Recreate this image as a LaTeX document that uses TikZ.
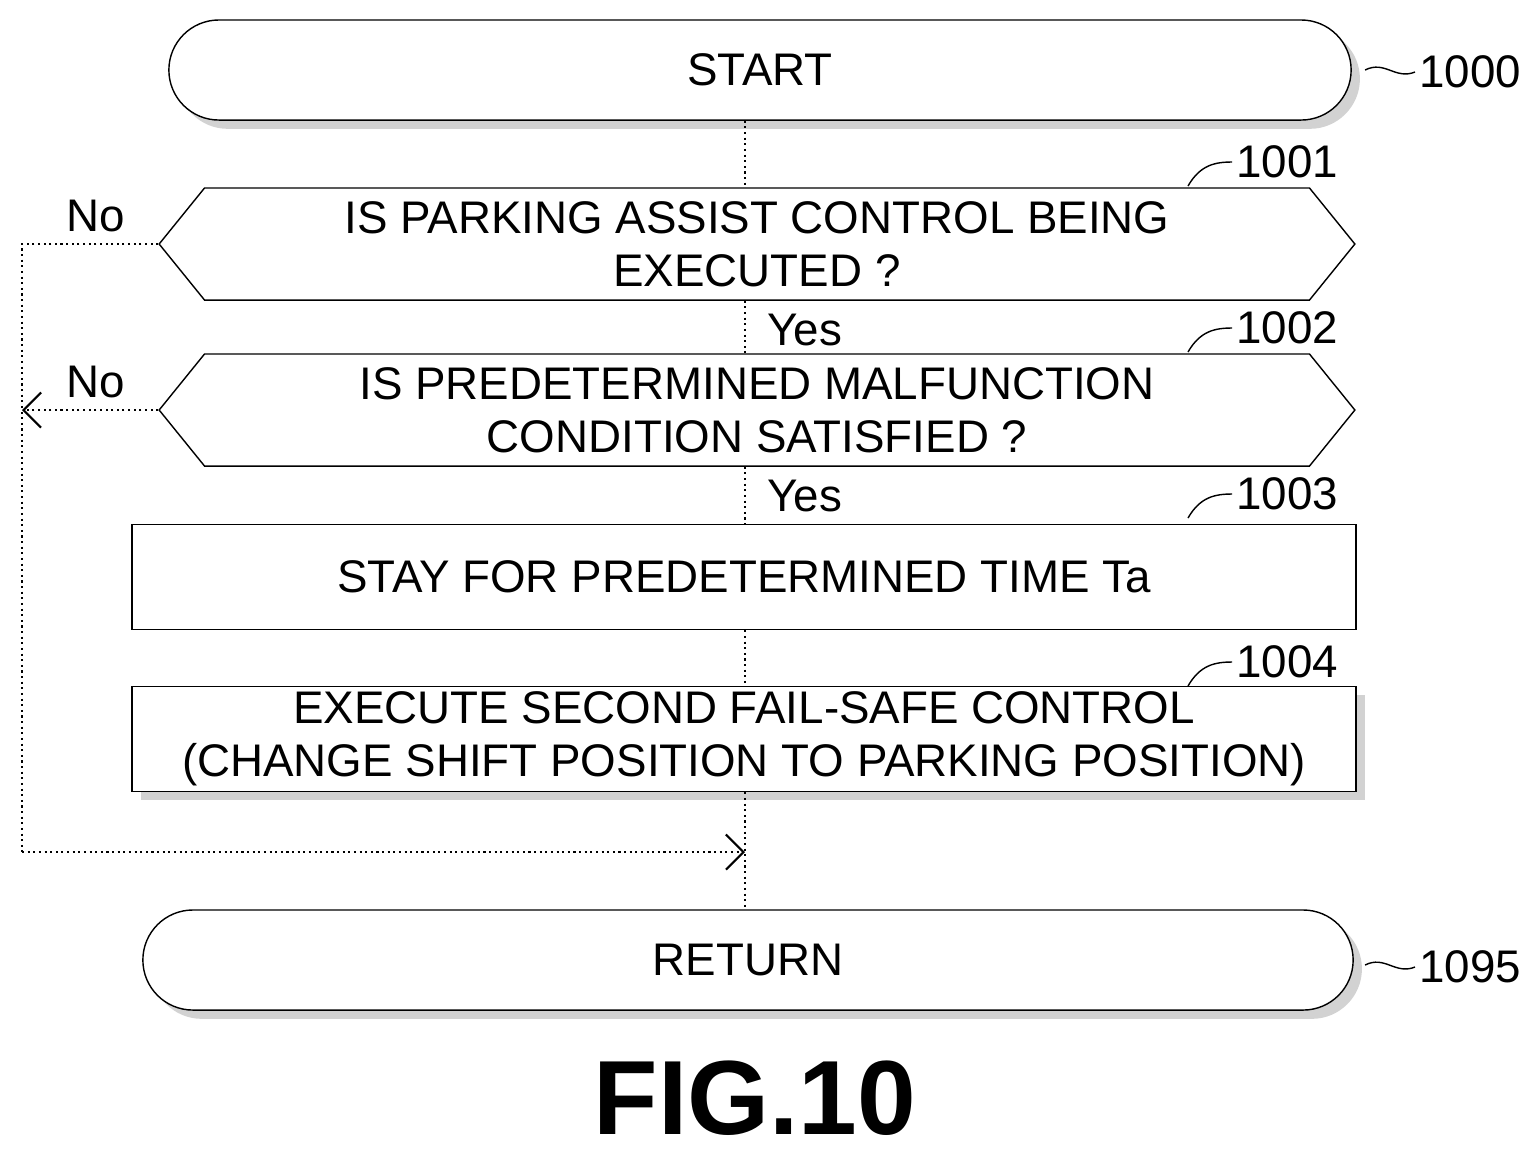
\documentclass[tikz,border=0pt]{standalone}
\usepackage{fontspec}
\setmainfont{Liberation Sans}
\usetikzlibrary{arrows.meta,shapes.misc,shapes.symbols,shadows,positioning}
\tikzset{
  term/.style={draw,rounded rectangle,minimum width=12.05cm,minimum height=1.0cm,
    fill=white,drop shadow={shadow xshift=2.5pt,shadow yshift=-2.5pt,fill=gray!70}},
  dec/.style={draw,signal,signal to=east and west,signal pointer angle=102,
    minimum width=11.95cm,minimum height=1.12cm,align=center,inner sep=0pt},
  proc/.style={draw,minimum width=12.23cm,minimum height=1.05cm,align=center,fill=white,inner sep=1pt},
  flow/.style={densely dotted,line width=0.6pt}
}
\begin{document}
\begin{tikzpicture}[x=0.01cm,y=-0.01cm,font=\fontsize{13}{15}\selectfont]
  \useasboundingbox (0,0) rectangle (1540,1153);
  % Nodes
  \node[term] (start) at (760,70) {START};
  \node[dec] (d1) at (757,244) {IS PARKING ASSIST CONTROL BEING\\EXECUTED ?};
  \node[dec] (d2) at (757,410) {IS PREDETERMINED MALFUNCTION\\CONDITION SATISFIED ?};
  \node[proc] (wait) at (744,577) {STAY FOR PREDETERMINED TIME Ta};
  \node[proc,drop shadow={shadow xshift=2.5pt,shadow yshift=-2.5pt,fill=gray!70}] (fs) at (744,739)
    {EXECUTE SECOND FAIL-SAFE CONTROL\\(CHANGE SHIFT POSITION TO PARKING POSITION)};
  \node[term,minimum width=12.33cm] (ret) at (748,960) {RETURN};
  \coordinate (join) at (745,852);
  \coordinate (c1) at (22,244);
  \coordinate (c2) at (22,410);
  \coordinate (c3) at (22,852);
  % Main flow
  \draw[flow] (start.south -| join) -- (d1.north -| join);
  \draw[flow] (d1.south -| join) -- (d2.north -| join);
  \draw[flow] (d2.south -| join) -- (wait.north -| join);
  \draw[flow] (wait.south -| join) -- (fs.north -| join);
  \draw[flow] (fs.south -| join) -- (ret.north -| join);
  \node[anchor=west] at (755,330) {Yes};
  \node[anchor=west] at (755,496) {Yes};
  % No branches
  \draw[flow] (d1.west) -- (c1) -- (c3);
  \draw[flow,-{Straight Barb[length=5pt,width=10pt]}] (c3) -- (join);
  \draw[flow,-{Straight Barb[length=5pt,width=10pt]}] (d2.west) -- (c2);
  \node[above left=0pt and 6pt of d1.west] {No};
  \node[above left=0pt and 6pt of d2.west] {No};
  % Step numbers
  \draw (1365,70) .. controls (1385,60) and (1395,80) .. (1415,72) node[right,inner sep=1pt] {1000};
  \draw (1188,186) .. controls (1200,165) and (1215,162) .. (1232,162) node[right,inner sep=1pt] {1001};
  \draw (1188,352) .. controls (1200,331) and (1215,328) .. (1232,328) node[right,inner sep=1pt] {1002};
  \draw (1188,518) .. controls (1200,497) and (1215,494) .. (1232,494) node[right,inner sep=1pt] {1003};
  \draw (1188,686) .. controls (1200,665) and (1215,662) .. (1232,662) node[right,inner sep=1pt] {1004};
  \draw (1365,965) .. controls (1385,955) and (1395,975) .. (1415,967) node[right,inner sep=1pt] {1095};
  % Caption
  \node[font=\fontsize{30}{32}\bfseries] (fig) at (755,1098) {FIG.10};
\end{tikzpicture}
\end{document}
